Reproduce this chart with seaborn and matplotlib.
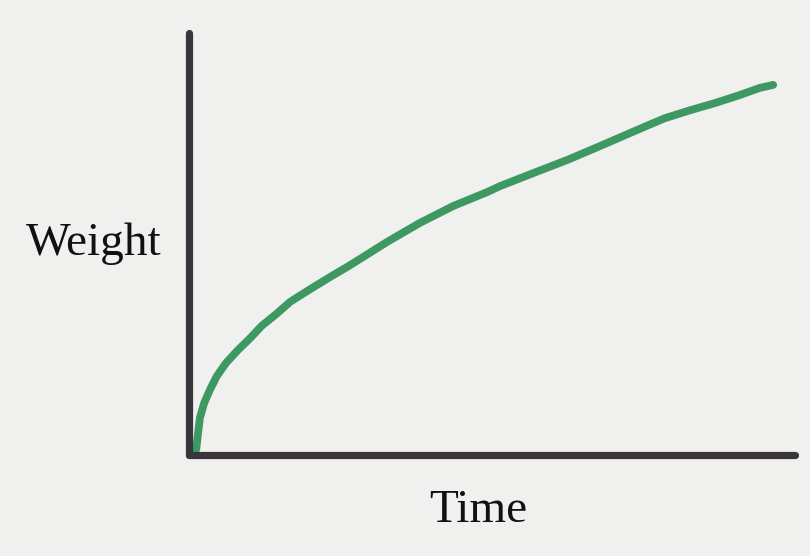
import matplotlib
matplotlib.use("Agg")
import matplotlib.pyplot as plt
import seaborn as sns
import pandas as pd

# Sketch of weight gain over time: rapid early growth that gradually slows
time = [0.08, 0.12, 0.15, 0.18, 0.25, 0.35, 0.46, 0.61, 0.81, 1.01, 1.20,
        1.44, 1.67, 2.00, 2.33, 2.66, 3.27, 3.81, 4.36, 4.92, 5.13, 5.68,
        6.24, 6.78, 7.44, 7.85, 8.27, 8.68, 9.09, 9.42, 9.64]
weight = [0.07, 0.14, 0.52, 0.88, 1.23, 1.56, 1.87, 2.18, 2.49, 2.77, 3.06,
          3.34, 3.63, 3.93, 4.22, 4.50, 5.05, 5.50, 5.90, 6.23, 6.37, 6.68,
          6.99, 7.32, 7.73, 7.98, 8.17, 8.34, 8.53, 8.70, 8.77]
x_label = "Time"
y_label = "Weight"

df = pd.DataFrame({"time": time, "weight": weight})

paper = "#f0f0ee"
ink = "#3a353a"
marker_green = "#3d9862"

sns.set_theme(style="white")
plt.rcParams["font.family"] = ["Liberation Serif", "DejaVu Serif"]

fig = plt.figure(figsize=(8.10, 5.56), dpi=100, facecolor=paper)
ax = fig.add_axes([189 / 810, 101 / 556, 606 / 810, 422 / 556])
ax.set_facecolor(paper)

sns.lineplot(data=df, x="time", y="weight", sort=False, ax=ax,
             color=marker_green, linewidth=5.6, solid_capstyle="round",
             solid_joinstyle="round", zorder=3)

ax.set_xlim(0, 10)
ax.set_ylim(0, 10)
ax.set_xticks([])
ax.set_yticks([])

for side in ("top", "right"):
    ax.spines[side].set_visible(False)
for side in ("left", "bottom"):
    sp = ax.spines[side]
    sp.set_visible(True)
    sp.set_color(ink)
    sp.set_linewidth(5.2)
    sp.set_capstyle("round")
    sp.set_zorder(4)

ax.set_xlabel(x_label, fontsize=34, color="#111111", ha="center", va="baseline")
ax.set_ylabel(y_label, fontsize=34, color="#111111", rotation=0,
              ha="center", va="baseline")
ax.xaxis.set_label_coords(0.477, -0.159)
ax.yaxis.set_label_coords(-0.158, 0.474)

fig.savefig("out.png", dpi=100, facecolor=paper)
